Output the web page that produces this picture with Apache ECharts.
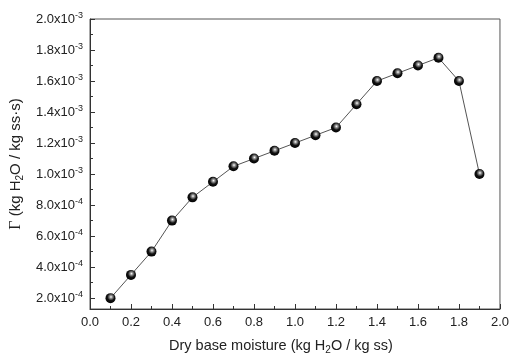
<!DOCTYPE html>
<html>
<head>
<meta charset="utf-8">
<script src="https://cdn.jsdelivr.net/npm/echarts@6/dist/echarts.min.js"></script>
<style>
  html, body { margin: 0; padding: 0; background: #fff; }
  #chart { width: 512px; height: 360px; }
</style>
</head>
<body>
<div id="chart"></div>
<script>
// Drying rate vs. dry-base moisture content
const moisture = [0.1, 0.2, 0.3, 0.4, 0.5, 0.6, 0.7, 0.8, 0.9, 1.0,
                  1.1, 1.2, 1.3, 1.4, 1.5, 1.6, 1.7, 1.8, 1.9];
const rate = [2.0e-4, 3.5e-4, 5.0e-4, 7.0e-4, 8.5e-4, 9.5e-4, 1.05e-3, 1.10e-3, 1.15e-3, 1.20e-3,
              1.25e-3, 1.30e-3, 1.45e-3, 1.60e-3, 1.65e-3, 1.70e-3, 1.75e-3, 1.60e-3, 1.00e-3];

// y-axis tick positions (major with labels, minor without)
const yMajorTicks = [2.0e-4, 4.0e-4, 6.0e-4, 8.0e-4, 1.0e-3, 1.2e-3, 1.4e-3, 1.6e-3, 1.8e-3, 2.0e-3];
const yMinorTicks = [3.0e-4, 5.0e-4, 7.0e-4, 9.0e-4, 1.1e-3, 1.3e-3, 1.5e-3, 1.7e-3, 1.9e-3];

const axisColor = '#333';
const textColor = '#222';
const FONT = '"Liberation Sans", Arial, sans-serif';

// "2.0x10^-3" style labels with a raised exponent
function sciLabel(v) {
  const e = Math.floor(Math.log10(v) + 1e-9);
  const m = v / Math.pow(10, e);
  return '{b|' + m.toFixed(1) + 'x10}{s|' + e + '}';
}

const points = moisture.map((x, i) => [x, rate[i]]);

const chart = echarts.init(document.getElementById('chart'), null, { renderer: 'canvas' });
chart.setOption({
  animation: false,
  backgroundColor: '#fff',
  grid: { left: 90, right: 9, top: 19, bottom: 46, show: true, borderColor: '#555', borderWidth: 1 },
  xAxis: {
    type: 'value', min: 0, max: 2.0, interval: 0.2,
    axisLine: { show: true, lineStyle: { color: axisColor, width: 1 } },
    axisTick: { show: true, inside: true, length: 5, lineStyle: { color: axisColor } },
    minorTick: { show: true, splitNumber: 2, length: 3, lineStyle: { color: axisColor } },
    splitLine: { show: false },
    axisLabel: { color: textColor, fontFamily: FONT, fontSize: 13, margin: 7,
                 formatter: v => v.toFixed(1) },
    name: '{t|Dry base moisture (kg H}{sub|2}{t|O / kg ss)}',
    nameLocation: 'middle', nameGap: 28,
    nameTextStyle: {
      padding: [0, 28, 0, 0],
      rich: {
        t: { fontFamily: FONT, fontSize: 14.5, color: textColor, lineHeight: 18 },
        sub: { fontFamily: FONT, fontSize: 10, color: textColor, lineHeight: 9, verticalAlign: 'bottom' }
      }
    }
  },
  yAxis: [{
    type: 'value', min: 1.3e-4, max: 2.0e-3,
    axisLine: { show: true, lineStyle: { color: axisColor, width: 1 } },
    axisTick: { show: true, inside: true, length: 5, customValues: yMajorTicks, lineStyle: { color: axisColor } },
    splitLine: { show: false },
    axisLabel: {
      customValues: yMajorTicks, margin: 7, formatter: sciLabel,
      rich: {
        b: { fontFamily: FONT, fontSize: 13, color: textColor, lineHeight: 16 },
        s: { fontFamily: FONT, fontSize: 9, color: textColor, lineHeight: 9, verticalAlign: 'top' }
      }
    },
    name: '{g|Γ}{t| (kg H}{sub|2}{t|O / kg ss·s)}',
    nameLocation: 'middle', nameRotate: 90, nameGap: 60,
    nameTextStyle: {
      rich: {
        g: { fontFamily: '"Liberation Serif", serif', fontSize: 16, color: textColor, lineHeight: 18 },
        t: { fontFamily: FONT, fontSize: 15, color: textColor, lineHeight: 18 },
        sub: { fontFamily: FONT, fontSize: 10, color: textColor, lineHeight: 9, verticalAlign: 'bottom' }
      }
    }
  }, {
    // minor ticks on the left axis
    type: 'value', min: 1.3e-4, max: 2.0e-3, position: 'left',
    axisLine: { show: false },
    axisTick: { show: true, inside: true, length: 3, customValues: yMinorTicks, lineStyle: { color: axisColor } },
    axisLabel: { show: false },
    splitLine: { show: false }
  }],
  series: [{
    type: 'line',
    data: points,
    symbol: 'circle',
    symbolSize: 10,
    lineStyle: { color: '#555', width: 1 },
    itemStyle: {
      color: {
        type: 'radial', x: 0.55, y: 0.38, r: 0.65,
        colorStops: [
          { offset: 0, color: '#ffffff' },
          { offset: 0.2, color: '#9a9a9a' },
          { offset: 0.55, color: '#111111' },
          { offset: 1, color: '#000000' }
        ]
      },
      borderWidth: 0
    },
    z: 3
  }]
});
</script>
</body>
</html>
